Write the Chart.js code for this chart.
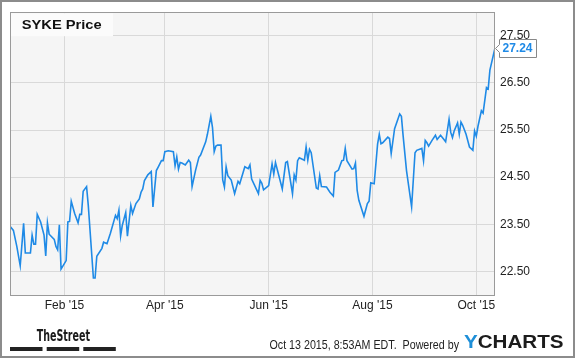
<!DOCTYPE html>
<html><head><meta charset="utf-8">
<style>html,body{margin:0;padding:0;background:#fff;}#wrap{width:575px;height:358px;position:relative;}</style>
<script src="https://cdn.jsdelivr.net/npm/chart.js@4"></script>
</head><body><div id="wrap"><canvas id="c" width="575" height="358"></canvas></div>
<script>
const dates = ["2014-12-31","2015-01-02","2015-01-04","2015-01-06","2015-01-08","2015-01-09","2015-01-12","2015-01-13","2015-01-14","2015-01-15","2015-01-16","2015-01-18","2015-01-20","2015-01-21","2015-01-22","2015-01-23","2015-01-26","2015-01-27","2015-01-28","2015-01-29","2015-01-30",
"2015-02-02","2015-02-03","2015-02-04","2015-02-05","2015-02-07","2015-02-09","2015-02-10","2015-02-11","2015-02-12","2015-02-14","2015-02-15","2015-02-18","2015-02-19","2015-02-20","2015-02-23","2015-02-24","2015-02-26","2015-02-28",
"2015-03-03","2015-03-04","2015-03-05","2015-03-06","2015-03-07","2015-03-09","2015-03-10","2015-03-12","2015-03-13","2015-03-15","2015-03-17","2015-03-18","2015-03-19","2015-03-20","2015-03-22","2015-03-24","2015-03-25","2015-03-27","2015-03-28","2015-03-30","2015-03-31",
"2015-04-01","2015-04-03","2015-04-06","2015-04-07","2015-04-08","2015-04-09","2015-04-10","2015-04-11","2015-04-13","2015-04-15","2015-04-16","2015-04-17","2015-04-19","2015-04-21","2015-04-22","2015-04-25","2015-04-26","2015-04-28","2015-04-29","2015-04-30",
"2015-05-01","2015-05-02","2015-05-04","2015-05-05","2015-05-06","2015-05-07","2015-05-08","2015-05-10","2015-05-12","2015-05-14","2015-05-15","2015-05-18","2015-05-20","2015-05-21","2015-05-22","2015-05-26","2015-05-27","2015-05-28","2015-05-29",
"2015-06-01","2015-06-03","2015-06-04","2015-06-05","2015-06-09","2015-06-11","2015-06-12","2015-06-15","2015-06-16","2015-06-17","2015-06-18","2015-06-19","2015-06-22","2015-06-23","2015-06-24","2015-06-25","2015-06-26","2015-06-29","2015-06-30",
"2015-07-01","2015-07-02","2015-07-05","2015-07-07","2015-07-09","2015-07-10","2015-07-12","2015-07-14","2015-07-15","2015-07-16","2015-07-17","2015-07-20","2015-07-21","2015-07-22","2015-07-23","2015-07-24","2015-07-27","2015-07-29","2015-07-30","2015-07-31",
"2015-08-02","2015-08-04","2015-08-05","2015-08-06","2015-08-07","2015-08-10","2015-08-11","2015-08-12","2015-08-14","2015-08-17","2015-08-18","2015-08-19","2015-08-21","2015-08-24","2015-08-26","2015-08-27","2015-08-30","2015-08-31",
"2015-09-01","2015-09-02","2015-09-03","2015-09-05","2015-09-07","2015-09-08","2015-09-10","2015-09-12","2015-09-13","2015-09-15","2015-09-16","2015-09-17","2015-09-18","2015-09-20","2015-09-21","2015-09-22","2015-09-23","2015-09-25","2015-09-27","2015-09-29","2015-09-30",
"2015-10-01","2015-10-02","2015-10-04","2015-10-05","2015-10-07","2015-10-08","2015-10-09","2015-10-12"];
const prices = [23.46,23.37,23.03,22.62,23.52,22.89,22.89,23.27,23.08,23.08,23.71,23.55,23.27,22.83,23.53,23.29,23.18,23.03,22.96,23.49,22.55,
22.73,23.55,23.56,23.99,23.73,23.53,23.71,23.71,24.20,24.30,23.90,22.36,22.36,22.82,22.99,23.12,23.09,23.31,
23.69,23.62,23.80,23.25,23.48,23.75,23.25,23.90,23.73,23.94,24.04,24.18,24.25,24.43,24.55,24.62,23.87,24.64,24.71,24.85,24.85,
25.04,25.06,25.04,24.74,24.93,24.67,24.81,24.80,24.76,24.86,24.81,24.30,24.64,24.92,24.97,25.25,25.41,25.79,25.55,25.04,
25.16,25.18,25.18,24.44,24.29,24.72,24.53,24.44,24.15,24.41,24.36,24.72,24.68,24.76,24.46,24.15,24.43,24.37,24.23,
24.32,24.78,24.57,24.81,24.25,24.81,24.83,24.15,24.55,24.44,24.85,24.91,24.86,25.14,24.86,25.09,25.02,24.27,24.25,
24.53,24.30,24.29,24.18,24.10,24.60,24.65,24.85,24.86,25.11,24.85,24.67,24.68,24.80,24.22,24.01,23.67,23.94,23.99,24.38,
24.36,25.20,25.41,25.21,25.23,25.35,25.32,25.00,25.53,25.84,25.79,25.38,24.64,23.87,25.02,25.07,25.11,24.85,
25.28,25.23,25.16,25.28,25.39,25.30,25.39,25.30,25.25,25.73,25.45,25.34,25.48,25.65,25.41,25.67,25.60,25.41,25.14,25.07,25.48,
25.37,25.58,25.91,25.86,26.40,26.37,26.77,27.24];
const tickDates = ["2015-02-01","2015-04-01","2015-06-01","2015-08-01","2015-10-01"];
const tickLabels = ["Feb '15","Apr '15","Jun '15","Aug '15","Oct '15"];
const yTicks = [22.5,23.5,24.5,25.5,26.5,27.5];
const titleText = "SYKE Price";
const stampText = "Oct 13 2015, 8:53AM EDT.  Powered by";

const FONT = "'Liberation Sans', Arial, sans-serif";
const LINE = '#1f8ae6';
const base = Date.UTC(2014, 11, 31);
function dayOf(s){const p=s.split('-').map(Number);return (Date.UTC(p[0],p[1]-1,p[2])-base)/864e5;}
const points = dates.map((d,i)=>({x:dayOf(d), y:prices[i]}));

function fitText(ctx, text, x, y, w, font, color){
  ctx.save(); ctx.font = font; ctx.fillStyle = color; ctx.textBaseline='alphabetic'; ctx.textAlign='left';
  const m = ctx.measureText(text).width;
  ctx.translate(x, y); ctx.scale(w/m, 1); ctx.fillText(text, 0, 0); ctx.restore();
}

const deco = {
  id:'deco',
  beforeDraw(chart){
    const c = chart.ctx, a = chart.chartArea;
    c.save();
    c.fillStyle='#fff'; c.fillRect(0,0,chart.width,chart.height);
    c.fillStyle='#f5f5f5'; c.fillRect(a.left,a.top,a.right-a.left,a.bottom-a.top);
    c.restore();
  },
  afterDraw(chart){
    const c = chart.ctx, a = chart.chartArea;
    c.save();
    // plot border
    c.strokeStyle='#9a9a9a'; c.lineWidth=1;
    c.strokeRect(Math.round(a.left)+0.5, Math.round(a.top)+0.5, Math.round(a.right-a.left)-1, Math.round(a.bottom-a.top));
    // title box
    c.fillStyle='#fbfbfb'; c.fillRect(a.left+1, a.top+1, 102, 23);
    fitText(c, titleText, 21.7, 28.5, 80, "bold 13px "+FONT, '#111');
    // last value label
    const ys = chart.scales.y, last = prices[prices.length-1];
    const ty = Math.round(ys.getPixelForValue(last))+0.5;
    const bx = a.right+4.5, bw = 37, bh = 18, top = ty-9;
    c.beginPath();
    c.moveTo(a.right+0.5, ty);
    c.lineTo(bx, ty-4); c.lineTo(bx, top); c.lineTo(bx+bw, top); c.lineTo(bx+bw, top+bh);
    c.lineTo(bx, top+bh); c.lineTo(bx, ty+4); c.closePath();
    c.fillStyle='#fff'; c.fill(); c.strokeStyle='#888'; c.lineWidth=1; c.stroke();
    c.font = "bold 12px "+FONT; c.fillStyle=LINE; c.textBaseline='middle'; c.textAlign='left';
    c.fillText(last.toFixed(2), bx+3, ty+0.5);
    // footer: TheStreet
    fitText(c, "TheStreet", 36.7, 341, 53.3, "bold 16px 'Liberation Sans Narrow', 'DejaVu Sans Condensed', Arial", '#1a1a1a');
    c.fillStyle='#222';
    c.fillRect(10,347,32.5,4); c.fillRect(46.7,347,32.5,4); c.fillRect(83.3,347,32.5,4);
    // footer stamp
    fitText(c, stampText, 269.5, 348.5, 189.5, "12px "+FONT, '#222');
    // YCHARTS
    c.font = "bold 18px "+FONT;
    const wy = c.measureText("Y").width, wall = c.measureText("YCHARTS").width;
    const sc = 99.7/wall;
    c.save(); c.translate(463.9, 348); c.scale(sc,1);
    c.fillStyle='#1e8fd8'; c.textBaseline='alphabetic'; c.fillText("Y",0,0);
    c.fillStyle='#1c1c1c'; c.fillText("CHARTS",wy,0);
    c.restore();
    // outer border
    c.strokeStyle='#8c8c8c'; c.lineWidth=2; c.strokeRect(1,1,chart.width-2,chart.height-2);
    c.restore();
  }
};

new Chart(document.getElementById('c'), {
  type:'line',
  data:{datasets:[{data:points, borderColor:LINE, borderWidth:1.6, pointRadius:0, tension:0, fill:false}]},
  options:{
    responsive:false, animation:false, devicePixelRatio:1,
    layout:{padding:{left:10, top:10, right:0, bottom:0}},
    plugins:{legend:{display:false}, tooltip:{enabled:false}},
    scales:{
      x:{type:'linear', min:dayOf(dates[0]), max:dayOf(dates[dates.length-1]),
        afterBuildTicks:s=>{s.ticks = tickDates.map(d=>({value:dayOf(d)}));},
        afterFit:s=>{s.height = 63;},
        ticks:{callback:(v,i)=>tickLabels[i], autoSkip:false, maxRotation:0, padding:3, color:'#222', font:{family:FONT, size:12}},
        grid:{color:'#d9d9d9', drawTicks:false, lineWidth:1},
        border:{display:false}},
      y:{position:'right', min:22, max:28,
        afterBuildTicks:s=>{s.ticks = yTicks.map(v=>({value:v}));},
        afterFit:s=>{s.width = 80;},
        ticks:{callback:v=>Number(v).toFixed(2), padding:5, color:'#222', font:{family:FONT, size:12}},
        grid:{color:'#d9d9d9', drawTicks:false, lineWidth:1},
        border:{display:false}}
    }
  },
  plugins:[deco]
});
</script></body></html>
